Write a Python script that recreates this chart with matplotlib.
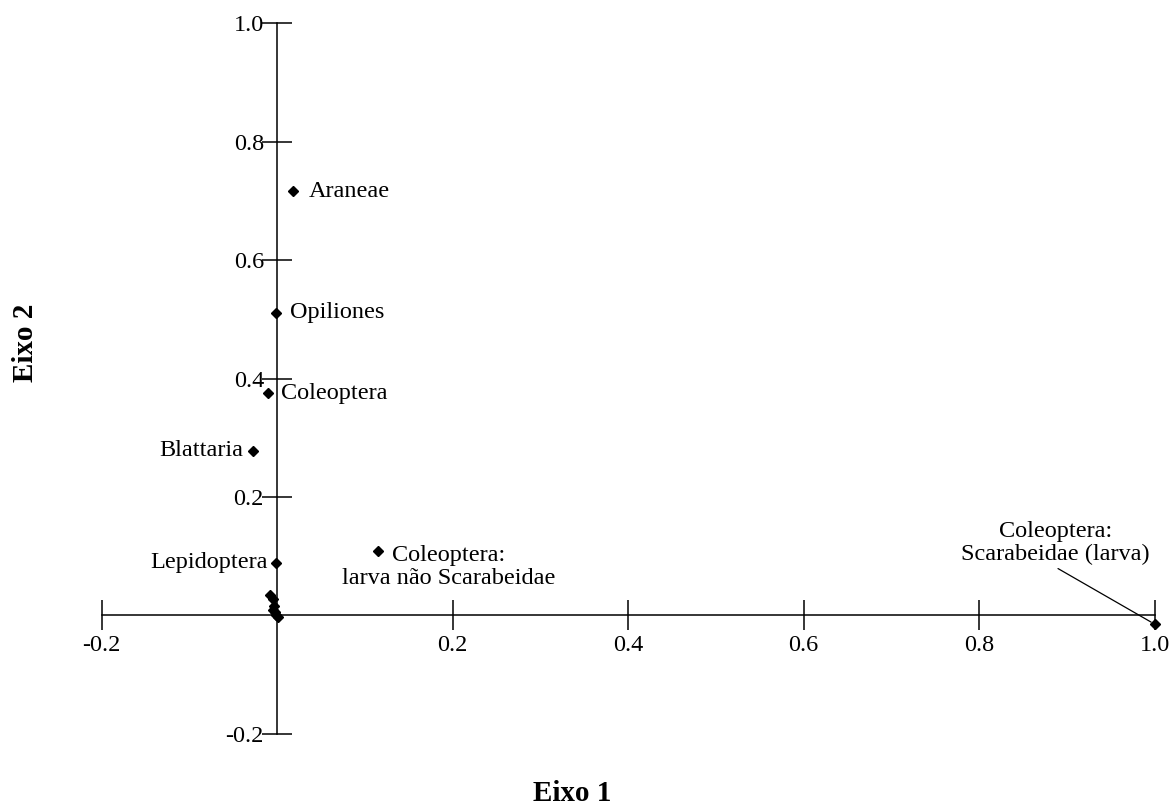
import matplotlib.pyplot as plt

plt.rcParams['font.family'] = ['Liberation Serif', 'DejaVu Serif']

# coordenadas das categorias (eixo 1, eixo 2)
labels = ['Araneae', 'Opiliones', 'Coleoptera', 'Blattaria', 'Lepidoptera',
          'Coleoptera:\nlarva não Scarabeidae', 'Coleoptera:\nScarabeidae (larva)']
x_lab = [0.018, -0.001, -0.010, -0.028, -0.001, 0.115, 1.000]
y_lab = [0.716, 0.511, 0.375, 0.278, 0.089, 0.109, -0.015]

# pontos sem rótulo perto da origem
x_rest = [-0.008, -0.005, -0.004, -0.005, -0.003, -0.001, 0.001]
y_rest = [0.034, 0.027, 0.015, 0.009, 0.005, 0.000, -0.003]

ticks = [-0.2, 0.2, 0.4, 0.6, 0.8, 1.0]
tick_labels = ['-0.2', '0.2', '0.4', '0.6', '0.8', '1.0']

# deslocamento do texto em pixels e alinhamento
offsets = [(16, 0, 'left'), (14, 0, 'left'), (13, 0, 'left'), (-9, 0, 'right'),
           (-9, 0, 'right'), (71, -16, 'center'), (-99, 81, 'center')]

fig = plt.figure(figsize=(11.74, 8.07), dpi=100)
ax = fig.add_axes([0.0866, 0.0908, 0.897, 0.8803])

ax.plot(x_lab, y_lab, 'D', color='black', ms=5.5, clip_on=False)
ax.plot(x_rest, y_rest, 'D', color='black', ms=5.5, clip_on=False)

for i, lab in enumerate(labels):
    dx, dy, ha = offsets[i]
    if i == 6:
        ax.annotate(lab, (x_lab[i], y_lab[i]), xytext=(dx, dy),
                    textcoords='offset pixels', ha=ha, va='center',
                    fontsize=17.5, linespacing=1.1,
                    arrowprops=dict(arrowstyle='-', color='black', lw=0.9,
                                    relpos=(0.48, 0), shrinkA=1, shrinkB=3))
    else:
        ax.annotate(lab, (x_lab[i], y_lab[i]), xytext=(dx, dy),
                    textcoords='offset pixels', ha=ha, va='center',
                    fontsize=17.5, linespacing=1.1)

ax.set_xlim(-0.2, 1.0)
ax.set_ylim(-0.2, 1.0)
for s in ['top', 'right']:
    ax.spines[s].set_visible(False)
ax.spines['left'].set_position(('data', 0))
ax.spines['bottom'].set_position(('data', 0))
ax.spines['left'].set_linewidth(1.1)
ax.spines['bottom'].set_linewidth(1.1)

ax.set_xticks(ticks)
ax.set_xticklabels(tick_labels)
ax.set_yticks(ticks)
ax.set_yticklabels(tick_labels)
ax.tick_params(direction='inout', length=21, width=1.1, labelsize=17.5)
ax.tick_params(axis='x', pad=4)
ax.tick_params(axis='y', pad=-1)

fig.text(0.487, 0.017, 'Eixo 1', ha='center', va='center', fontsize=21, fontweight='bold')
fig.text(0.022, 0.575, 'Eixo 2', ha='center', va='center', fontsize=21,
         fontweight='bold', rotation=90)

fig.savefig('out.png', dpi=100)
